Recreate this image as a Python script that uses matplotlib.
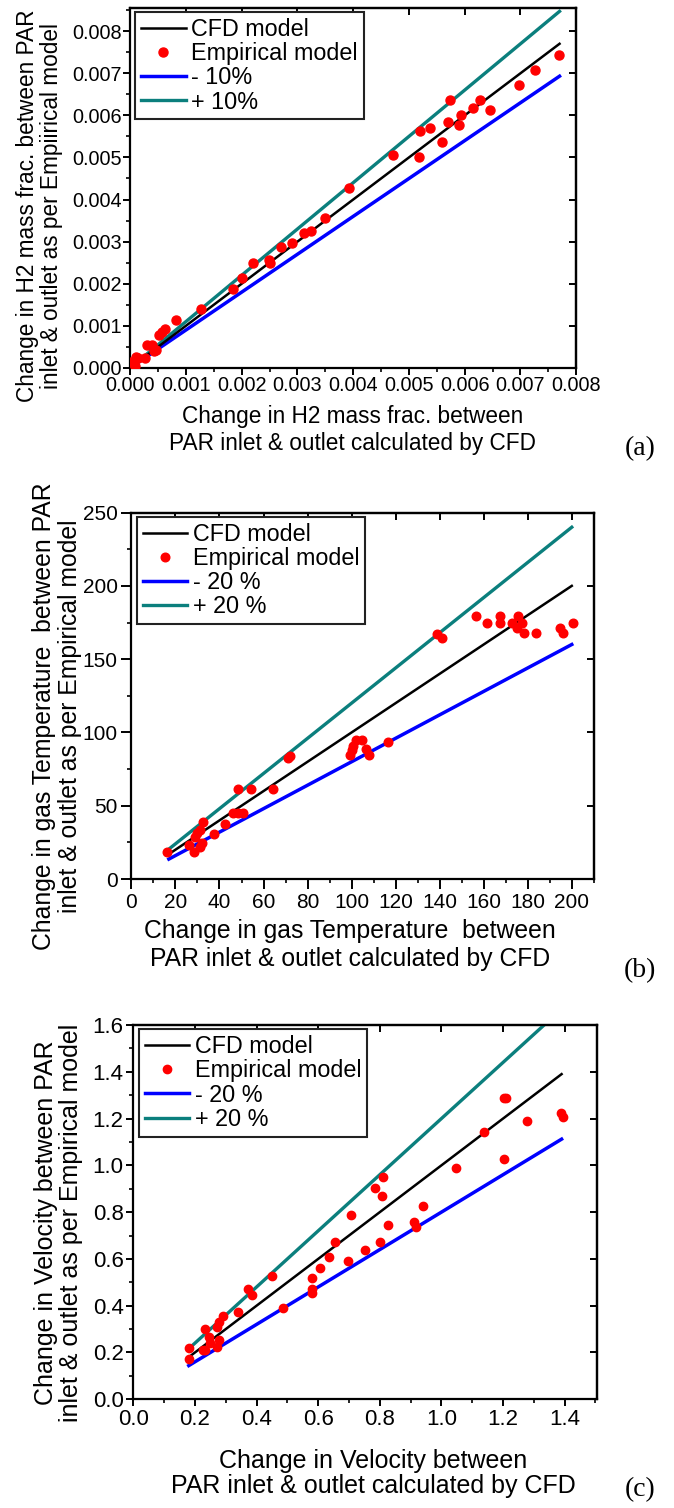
import numpy as np
import matplotlib
matplotlib.use("Agg")
import matplotlib.pyplot as plt
from matplotlib.ticker import MultipleLocator, FormatStrFormatter

plt.rcParams["font.family"] = ["Liberation Sans", "DejaVu Sans"]

# ---- panel (a): H2 mass fraction change
a_cfd = [0.00001, 0.00011, 0.00009, 0.00015, 0.00027, 0.0003, 0.00039, 0.00043,
         0.00046, 0.00052, 0.00058, 0.00063, 0.00083, 0.00128, 0.00184, 0.00201,
         0.00221, 0.00249, 0.0025, 0.00271, 0.0029, 0.00312, 0.00324, 0.0035,
         0.00392, 0.00472, 0.00518, 0.00519, 0.00537, 0.0056, 0.0057, 0.00574,
         0.0059, 0.00594, 0.00614, 0.00628, 0.00645, 0.00698, 0.00726, 0.00769]
a_emp = [0.00013, 0.00027, 0.00005, 0.00024, 0.00023, 0.00055, 0.00055, 0.00041,
         0.00043, 0.00079, 0.00086, 0.00093, 0.00114, 0.0014, 0.00187, 0.00213,
         0.00249, 0.00257, 0.00249, 0.00287, 0.00297, 0.00321, 0.00326, 0.00355,
         0.00428, 0.00505, 0.00501, 0.00563, 0.00571, 0.00536, 0.00585, 0.00636,
         0.00577, 0.00602, 0.00617, 0.00636, 0.00613, 0.00671, 0.00707, 0.00744]
a_line = [0.0, 0.0077]
a_band = 0.10

# ---- panel (b): gas temperature change
b_cfd = [16.1, 26.3, 28.4, 28.9, 29.9, 31.1, 31.9, 31.1, 32.4, 37.6, 42.5, 46.3,
         48.5, 50.5, 48.5, 54.2, 64.2, 71.3, 72, 99.3, 100.1, 100.8, 102, 104.6,
         106.6, 108.1, 116.7, 138.7, 141, 156.4, 161.5, 167.5, 167.5, 172.8, 175.4,
         177.4, 175.1, 178.1, 183.7, 194.8, 196, 200.4]
b_emp = [18.6, 23.2, 18.6, 28.9, 31.6, 33.4, 24.3, 22, 39.1, 30.5, 37.3, 44.8,
         44.8, 44.8, 61.2, 61.2, 61.2, 82.3, 84.1, 84.6, 88, 90.7, 94.8, 94.8,
         88.5, 84.6, 93.2, 166.9, 164.6, 179.6, 174.4, 179.6, 174.4, 174.4, 179.6,
         174.4, 171, 168, 168, 171, 168, 174.4]
b_line = [17.0, 200.0]
b_band = 0.20

# ---- panel (c): velocity change
c_cfd = [0.182, 0.182, 0.225, 0.233, 0.233, 0.247, 0.249, 0.27, 0.279, 0.27, 0.279,
         0.292, 0.341, 0.373, 0.384, 0.449, 0.487, 0.579, 0.579, 0.581, 0.606, 0.636,
         0.654, 0.697, 0.708, 0.751, 0.784, 0.8, 0.811, 0.806, 0.825, 0.91, 0.919,
         0.941, 1.046, 1.138, 1.204, 1.21, 1.204, 1.278, 1.387, 1.395]
c_emp = [0.221, 0.172, 0.211, 0.211, 0.3, 0.268, 0.242, 0.225, 0.254, 0.311, 0.332,
         0.358, 0.375, 0.472, 0.446, 0.527, 0.392, 0.52, 0.472, 0.456, 0.56, 0.61,
         0.674, 0.589, 0.788, 0.639, 0.903, 0.674, 0.95, 0.871, 0.746, 0.756, 0.736,
         0.827, 0.99, 1.142, 1.286, 1.286, 1.028, 1.19, 1.223, 1.206]
c_line = [0.18, 1.39]
c_band = 0.20

TEAL = "#0b7f7d"
BLUE = "#0000ff"
RED = "#ff0000"


def draw_panel(ax, cfd, emp, line_x, band, band_labels, xlim, ylim,
               xstep, ystep, fmt, tick_fs, leg_fs, ms, ticklen, tickpad):
    lx = np.array(line_x)
    ax.plot(lx, lx, color="black", lw=1.8, label="CFD model", zorder=3)
    ax.plot(cfd, emp, "o", color=RED, ms=ms, mec=RED, label="Empirical model", zorder=4)
    ax.plot(lx, lx * (1 - band), color=BLUE, lw=2.5, label=band_labels[0], zorder=2)
    ax.plot(lx, lx * (1 + band), color=TEAL, lw=2.4, label=band_labels[1], zorder=2)

    ax.set_xlim(*xlim)
    ax.set_ylim(*ylim)
    for axis, step in ((ax.xaxis, xstep), (ax.yaxis, ystep)):
        axis.set_major_locator(MultipleLocator(step))
        axis.set_minor_locator(MultipleLocator(step / 2))
        axis.set_major_formatter(FormatStrFormatter(fmt))
    ax.tick_params(which="major", direction="out", length=ticklen, width=1.4,
                   labelsize=tick_fs, pad=tickpad)
    ax.tick_params(which="minor", direction="out", length=3, width=1.2)
    for sp in ax.spines.values():
        sp.set_linewidth(1.6)

    # inward ticks on the top and right frame
    top = ax.secondary_xaxis("top")
    right = ax.secondary_yaxis("right")
    top.xaxis.set_major_locator(MultipleLocator(xstep))
    right.yaxis.set_major_locator(MultipleLocator(ystep))
    top.tick_params(direction="in", length=5, width=1.4, labeltop=False)
    right.tick_params(direction="in", length=5, width=1.4, labelright=False)
    for sp in list(top.spines.values()) + list(right.spines.values()):
        sp.set_linewidth(1.6)

    leg = ax.legend(loc="upper left", bbox_to_anchor=(0.012, 0.988), fontsize=leg_fs,
                    frameon=True, fancybox=False, framealpha=1, edgecolor="#222222",
                    handlelength=1.9, handletextpad=0.25, labelspacing=0.05,
                    borderpad=0.25, borderaxespad=0, numpoints=1)
    leg.get_frame().set_linewidth(1.5)
    return ax


fig = plt.figure(figsize=(6.74, 15.08), dpi=100)

# (a)
ax1 = fig.add_axes([0.193, 0.756, 0.662, 0.2387])
draw_panel(ax1, a_cfd, a_emp, a_line, a_band, ["- 10%", "+ 10%"],
           (0, 0.008), (0, 0.00855), 0.001, 0.001, "%.3f",
           14.3, 16.8, 6.5, 5, 1)
ax1.set_xlabel("Change in H2 mass frac. between\nPAR inlet & outlet calculated by CFD",
               fontsize=16.3, linespacing=1.2)
ax1.set_ylabel("Change in H2 mass frac. between PAR\ninlet & outlet as per Empiirical model",
               fontsize=16.3, linespacing=1.05)
ax1.xaxis.set_label_coords(0.498, -0.103)
ax1.yaxis.set_label_coords(-0.15, 0.45)

# (b)
ax2 = fig.add_axes([0.195, 0.4171, 0.686, 0.243])
draw_panel(ax2, b_cfd, b_emp, b_line, b_band, ["- 20 %", "+ 20 %"],
           (0, 210), (0, 250), 20, 50, "%d",
           15, 16.8, 6.2, 7, 3)
ax2.set_xlabel("Change in gas Temperature  between\nPAR inlet & outlet calculated by CFD",
               fontsize=17.8, linespacing=1.2)
ax2.set_ylabel("Change in gas Temperature  between PAR\ninlet & outlet as per Empirical model",
               fontsize=17.8, linespacing=1.1)
ax2.xaxis.set_label_coords(0.472, -0.11)
ax2.yaxis.set_label_coords(-0.107, 0.445)

# (c)
ax3 = fig.add_axes([0.1978, 0.0721, 0.688, 0.2482])
draw_panel(ax3, c_cfd, c_emp, c_line, c_band, ["- 20 %", "+ 20 %"],
           (0, 1.505), (0, 1.6), 0.2, 0.2, "%.1f",
           16, 16.8, 6.0, 5, 2)
ax3.set_xlabel("Change in Velocity between\nPAR inlet & outlet calculated by CFD",
               fontsize=18, linespacing=1.05)
ax3.set_ylabel("Change in Velocity between PAR\ninlet & outlet as per Empirical model",
               fontsize=18, linespacing=1.05)
ax3.xaxis.set_label_coords(0.517, -0.133)
ax3.yaxis.set_label_coords(-0.108, 0.472)

# panel letters
for lab, yy in (("(a)", 449), ("(b)", 971), ("(c)", 1490)):
    fig.text(640 / 674, 1 - yy / 1508, lab, family=["Liberation Serif", "DejaVu Serif"],
             fontsize=20, ha="center", va="center")

fig.savefig("out.png", dpi=100)
